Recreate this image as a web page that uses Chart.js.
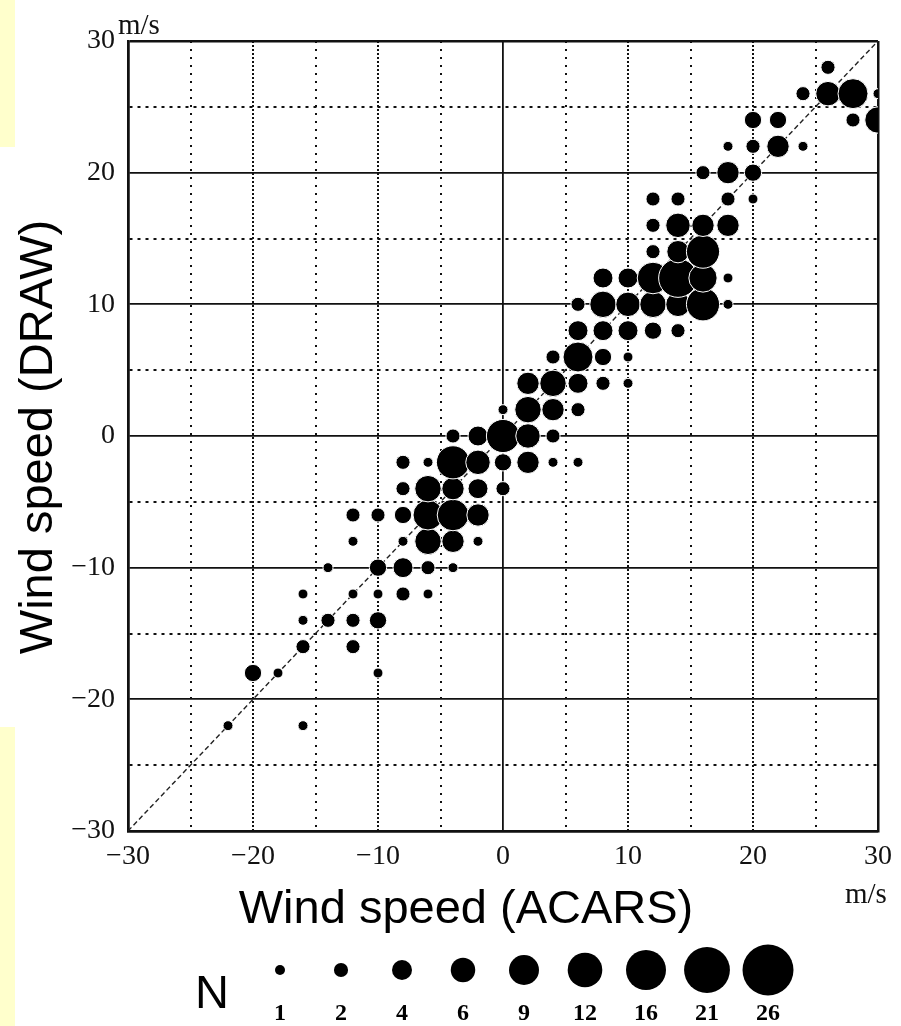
<!DOCTYPE html>
<html><head><meta charset="utf-8">
<script src="https://cdn.jsdelivr.net/npm/chart.js@4.4.1/dist/chart.umd.min.js"></script>
<style>html,body{margin:0;padding:0;background:#fff;}canvas{display:block;}</style>
</head><body>
<canvas id="c" width="901" height="1026"></canvas>
<script>
// Wind speed (ACARS) on x, wind speed (DRAW) on y, N = number of cases
const windACARS = [-22,-16,-20,-18,-10,-16,-12,-16,-14,-12,-10,-16,-12,-10,-8,-6,-14,-10,-8,-6,-4,-12,-8,-6,-4,-2,
  -12,-10,-8,-6,-4,-2,-8,-6,-4,-2,0,-8,-6,-4,-2,0,2,4,6,-4,-2,0,2,4,0,2,4,6,2,4,6,8,10,4,6,8,10,
  6,8,10,12,14,6,8,10,12,14,16,18,8,10,12,14,16,18,12,14,16,12,14,16,18,12,14,18,20,16,18,20,
  18,20,22,24,20,22,28,30,24,26,28,30,26];
const windDRAW = [-22,-22,-18,-18,-18,-16,-16,-14,-14,-14,-14,-12,-12,-12,-12,-12,-10,-10,-10,-10,-10,-8,-8,-8,-8,-8,
  -6,-6,-6,-6,-6,-6,-4,-4,-4,-4,-4,-2,-2,-2,-2,-2,-2,-2,-2,0,0,0,0,0,2,2,2,2,4,4,4,4,4,6,6,6,6,
  8,8,8,8,8,10,10,10,10,10,10,10,12,12,12,12,12,12,14,14,14,16,16,16,16,18,18,18,18,20,20,20,
  22,22,22,22,24,24,24,24,26,26,26,26,28];
const countN = [1,1,3,1,1,2,2,1,2,2,3,1,1,1,2,1,1,3,4,2,1,1,1,7,5,1,
  2,2,3,9,10,5,2,7,5,4,2,2,1,11,6,3,5,1,1,2,4,11,6,2,1,7,5,2,5,7,4,2,1,2,9,3,1,
  4,4,4,3,2,2,7,6,7,6,11,1,4,4,10,15,8,1,2,5,11,2,6,5,5,2,2,2,1,2,5,3,
  1,2,5,1,3,3,2,7,2,6,9,1,2];
const xTickLabels = ['\u221230','\u221220','\u221210','0','10','20','30'];
const yTickLabels = ['\u221230','\u221220','\u221210','0','10','20','30'];
const legendN = [1,2,4,6,9,12,16,21,26];
const refLineEnds = [-30, 30];

const radiusOf = n => 5 * Math.sqrt(n);
const points = windACARS.map((x, i) => ({x: x, y: windDRAW[i], n: countN[i]}));

function vGrid(v) {
  if (Math.abs(v) === 30) return {w: 2.5, dash: []};
  if (v === 0) return {w: 1.8, dash: []};
  if (v % 10 === 0) return {w: 2, dash: [2, 2]};
  return {w: 2, dash: [2, 6]};
}
function hGrid(v) {
  if (Math.abs(v) === 30) return {w: 2.5, dash: []};
  if (v % 10 === 0) return {w: 1.8, dash: []};
  return {w: 2, dash: [3, 5]};
}

const decor = {
  id: 'decor',
  beforeDraw(chart) {
    const ctx = chart.ctx;
    ctx.save();
    ctx.fillStyle = '#fff';
    ctx.fillRect(0, 0, chart.width, chart.height);
    ctx.fillStyle = '#FFFFCC';
    ctx.fillRect(0, 0, 15, 147);
    ctx.fillRect(0, 727, 15, 299);
    ctx.restore();
  },
  afterDraw(chart) {
    const ctx = chart.ctx;
    ctx.save();
    ctx.fillStyle = '#000';
    // axis titles
    ctx.font = '47px "Liberation Sans", Arial, sans-serif';
    ctx.textAlign = 'center';
    ctx.textBaseline = 'alphabetic';
    ctx.fillText('Wind speed (ACARS)', 466, 923);
    ctx.save();
    ctx.translate(52, 437);
    ctx.rotate(-Math.PI / 2);
    ctx.fillText('Wind speed (DRAW)', 0, 0);
    ctx.restore();
    // units
    ctx.fillStyle = '#111';
    ctx.font = '29px "Liberation Serif", serif';
    ctx.textAlign = 'left';
    ctx.fillText('m/s', 118, 34);
    ctx.fillText('m/s', 845, 903);
    // size legend
    ctx.fillStyle = '#000';
    ctx.font = '47px "Liberation Sans", Arial, sans-serif';
    ctx.fillText('N', 195, 1008);
    ctx.textAlign = 'center';
    ctx.textBaseline = 'middle';
    ctx.font = 'bold 24px "Liberation Serif", serif';
    legendN.forEach((n, i) => {
      const cx = 280 + i * 61;
      ctx.beginPath();
      ctx.arc(cx, 970, radiusOf(n), 0, Math.PI * 2);
      ctx.fill();
      ctx.fillText(String(n), cx, 1014);
    });
    ctx.restore();
  }
};

new Chart(document.getElementById('c'), {
  type: 'scatter',
  data: {
    datasets: [
      {
        data: points,
        backgroundColor: '#000',
        borderColor: '#fff',
        borderWidth: 1,
        pointRadius: c => radiusOf(c.raw.n),
        pointHoverRadius: c => radiusOf(c.raw.n),
        order: 1
      },
      {
        type: 'line',
        data: refLineEnds.map(v => ({x: v, y: v})),
        borderColor: '#222',
        borderWidth: 1.4,
        borderDash: [5, 3],
        pointRadius: 0,
        fill: false,
        order: 2
      }
    ]
  },
  options: {
    responsive: false,
    animation: false,
    devicePixelRatio: 1,
    events: [],
    layout: {padding: {top: 41, right: 17, left: 0, bottom: 0}},
    plugins: {legend: {display: false}, tooltip: {enabled: false}},
    scales: {
      x: {
        type: 'linear', min: -30, max: 30, position: 'bottom',
        ticks: {
          stepSize: 5, autoSkip: false, maxRotation: 0, padding: 9, color: '#111',
          font: {family: '"Liberation Serif", serif', size: 28},
          callback: v => (v % 10 === 0 ? xTickLabels[(v + 30) / 10] : '')
        },
        grid: {drawTicks: false, color: '#111', lineWidth: c => vGrid(c.tick ? c.tick.value : 0).w},
        border: {display: true, color: '#111', width: 2.5, dash: c => (c.tick ? vGrid(c.tick.value).dash : [])},
        afterFit: s => { s.height = 195; }
      },
      y: {
        type: 'linear', min: -30, max: 30, position: 'left',
        ticks: {
          stepSize: 5, autoSkip: false, padding: 13, color: '#111',
          font: {family: '"Liberation Serif", serif', size: 28},
          callback: v => (v % 10 === 0 ? yTickLabels[(v + 30) / 10] : '')
        },
        grid: {drawTicks: false, color: '#111', lineWidth: c => hGrid(c.tick ? c.tick.value : 0).w},
        border: {display: true, color: '#111', width: 2.5, dash: c => (c.tick ? hGrid(c.tick.value).dash : [])},
        afterFit: s => { s.width = 128; }
      }
    }
  },
  plugins: [decor]
});
</script>
</body></html>
